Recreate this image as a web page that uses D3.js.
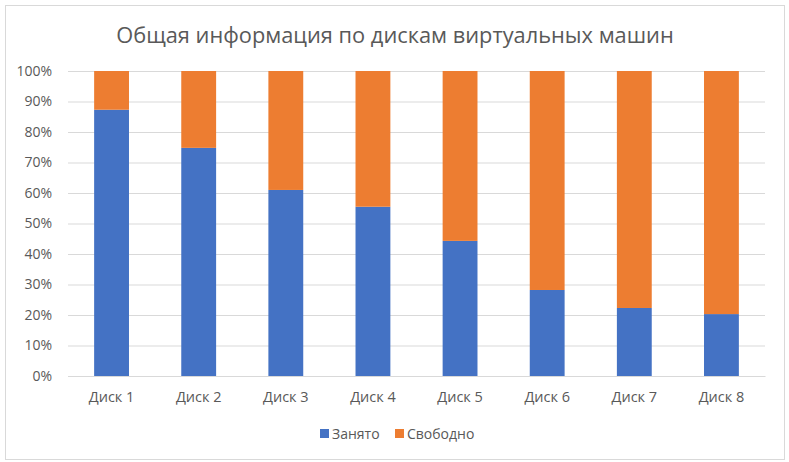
<!DOCTYPE html>
<html>
<head>
<meta charset="utf-8">
<script src="https://cdn.jsdelivr.net/npm/d3@7"></script>
<style>
  body { margin: 0; background: #fff; }
  text { font-family: "Open Sans", "Noto Sans", sans-serif; }
</style>
</head>
<body>
<script>
// data (percent of each disk)
var disks = ["Диск 1", "Диск 2", "Диск 3", "Диск 4", "Диск 5", "Диск 6", "Диск 7", "Диск 8"];
var used = [87.3, 74.8, 61.0, 55.5, 44.3, 28.2, 22.3, 20.3];
var free = [12.7, 25.2, 39.0, 44.5, 55.7, 71.8, 77.7, 79.7];
var seriesNames = ["Занято", "Свободно"];
var seriesColors = ["#4472c4", "#ed7d31"];
var yTicks = [0, 10, 20, 30, 40, 50, 60, 70, 80, 90, 100];

var W = 789, H = 462;
var margin = {top: 71, right: 24, bottom: 86, left: 68},
    width = W - margin.left - margin.right,
    height = H - margin.top - margin.bottom;

var svg = d3.select("body").append("svg")
    .attr("width", W)
    .attr("height", H);

// chart border
svg.append("rect")
    .attr("x", 5.5).attr("y", 5.5)
    .attr("width", 779).attr("height", 454)
    .attr("fill", "#fff")
    .attr("stroke", "#d9d9d9");

svg.append("text")
    .attr("x", 395)
    .attr("y", 43)
    .attr("text-anchor", "middle")
    .attr("font-size", "21.8px")
    .attr("fill", "#595959")
    .text("Общая информация по дискам виртуальных машин");

var g = svg.append("g")
    .attr("transform", "translate(" + margin.left + "," + margin.top + ")");

var x = d3.scaleBand().domain(disks).range([0, width])
    .paddingInner(0.6).paddingOuter(0.3);
var y = d3.scaleLinear().domain([0, 100]).range([height, 0]);

// gridlines + y labels
var yAxis = d3.axisLeft(y).tickValues(yTicks)
    .tickSize(-width).tickPadding(16)
    .tickFormat(function(d) { return d + "%"; });

g.append("g")
    .attr("class", "y axis")
    .call(yAxis)
    .call(function(s) {
        s.select(".domain").remove();
        s.selectAll("line").attr("stroke", "#d9d9d9");
        s.selectAll("text").attr("fill", "#595959").attr("font-size", "14px")
            .attr("font-family", "'Open Sans', sans-serif");
    });

// stacked bars
var rows = disks.map(function(d, i) {
    return {key: d, used: used[i], free: free[i]};
});
var stack = d3.stack().keys(["used", "free"])(rows);

g.selectAll(".series")
    .data(stack)
    .enter()
    .append("g")
    .attr("fill", function(d, i) { return seriesColors[i]; })
    .selectAll("rect")
    .data(function(d) { return d; })
    .enter()
    .append("rect")
    .attr("x", function(d) { return x(d.data.key); })
    .attr("y", function(d) { return y(d[1]); })
    .attr("width", x.bandwidth())
    .attr("height", function(d) { return y(d[0]) - y(d[1]); });

// x axis
g.append("g")
    .attr("class", "x axis")
    .attr("transform", "translate(0," + height + ")")
    .call(d3.axisBottom(x).tickSize(0).tickPadding(16))
    .call(function(s) {
        s.select(".domain").attr("stroke", "#d9d9d9");
        s.selectAll("text").attr("fill", "#595959").attr("font-size", "14.5px")
            .attr("font-family", "'Open Sans', sans-serif");
    });

// legend
var legend = svg.append("g").attr("transform", "translate(320,434)");
var lx = [0, 75];
seriesNames.forEach(function(name, i) {
    legend.append("rect")
        .attr("x", lx[i]).attr("y", -5)
        .attr("width", 9).attr("height", 9)
        .attr("fill", seriesColors[i]);
    legend.append("text")
        .attr("x", lx[i] + 12).attr("y", 5)
        .attr("font-size", "14px")
        .attr("fill", "#595959")
        .text(name);
});
</script>
</body>
</html>
